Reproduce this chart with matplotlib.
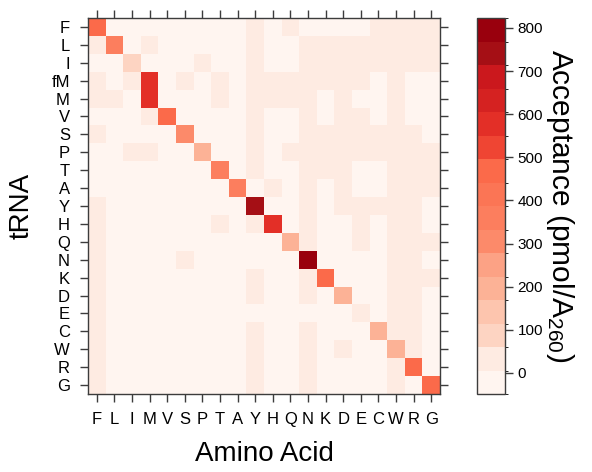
import matplotlib
matplotlib.use("Agg")
import matplotlib.pyplot as plt
import numpy as np
from matplotlib.colors import BoundaryNorm, ListedColormap

plt.rcParams["font.family"] = ["Liberation Sans", "DejaVu Sans"]
plt.rcParams["mathtext.fontset"] = "custom"
plt.rcParams["mathtext.rm"] = "Liberation Sans"
plt.rcParams["mathtext.it"] = "Liberation Sans:italic"

# tRNA (filas) y aminoácido (columnas)
trna = ["F", "L", "I", "fM", "M", "V", "S", "P", "T", "A", "Y",
        "H", "Q", "N", "K", "D", "E", "C", "W", "R", "G"]
amino = ["F", "L", "I", "M", "V", "S", "P", "T", "A", "Y",
         "H", "Q", "N", "K", "D", "E", "C", "W", "R", "G"]

# Aceptación (pmol/A260), leída del mapa
#              F    L    I    M    V    S    P    T    A    Y    H    Q    N    K    D    E    C    W    R    G
acceptance = [
    [450,   0,   0,   0,   0,   0,   0,   0,   0,  30,   0,  30,   0,   0,   0,   0,  30,  30,  30,  30],  # F
    [ 30, 380,   0,  30,   0,   0,   0,   0,   0,  30,   0,   0,  30,  30,  30,  30,  30,  30,  30,  30],  # L
    [  0,   0, 100,   0,   0,   0,  30,   0,   0,  30,   0,   0,  30,  30,  30,  30,  30,  30,  30,  30],  # I
    [ 30,   0,  30, 590,   0,  30,   0,  30,   0,  30,  30,  30,  30,  30,  30,  30,   0,  30,   0,   0],  # fM
    [ 30,  30,   0, 590,   0,   0,   0,  30,   0,  30,  30,  30,  30,   0,  30,   0,   0,  30,   0,   0],  # M
    [  0,   0,   0,  30, 470,   0,   0,   0,   0,  30,   0,   0,  30,   0,  30,  30,   0,  30,   0,   0],  # V
    [ 30,   0,   0,   0,   0, 320,   0,   0,   0,  30,   0,   0,  30,  30,  30,  30,  30,  30,  30,   0],  # S
    [  0,   0,  30,  30,   0,   0, 215,   0,   0,  30,   0,  30,  30,  30,  30,  30,  30,  30,  30,  30],  # P
    [  0,   0,   0,   0,   0,   0,   0, 370,   0,  30,   0,   0,  30,  30,  30,   0,   0,  30,  30,  30],  # T
    [  0,   0,   0,   0,   0,   0,   0,   0, 360,   0,  30,   0,  30,   0,  30,   0,   0,  30,  30,  30],  # A
    [ 30,   0,   0,   0,   0,   0,   0,   0,   0, 750,   0,   0,  30,   0,  30,  30,  30,  30,  30,   0],  # Y
    [ 30,   0,   0,   0,   0,   0,   0,  30,   0,  30, 590,   0,  30,   0,   0,  30,   0,  30,  30,   0],  # H
    [ 30,   0,   0,   0,   0,   0,   0,   0,   0,   0,   0, 215,  30,   0,   0,  30,   0,  30,  30,  30],  # Q
    [ 30,   0,   0,   0,   0,  30,   0,   0,   0,   0,   0,   0, 810,   0,   0,   0,   0,  30,  30,   0],  # N
    [ 30, -10,   0,   0,   0,   0,   0,   0,   0,  30,   0,   0,  30, 470,   0,   0,   0,  30,  30,  30],  # K
    [ 30,   0,   0,   0,   0,   0,   0,   0,   0,  30,   0,   0,  30,   0, 215,   0,   0,  30,  30,   0],  # D
    [ 30,   0, -20,   0,   0,   0,   0,   0,   0,   0,   0,   0,   0,   0,   0,  50,   0,  30,  30,   0],  # E
    [ 30,   0,   0,   0,   0,   0,   0,   0,   0,  30,   0,   0,  30,   0,   0,   0, 215,  30,  30,   0],  # C
    [ 30,   0,   0,   0, -45,   0,   0,   0,   0,  30,   0,   0,  30,   0,  30,   0,   0, 215,  30,   0],  # W
    [ 30,   0,   0,   0,   0,   0,   0,   0,   0,  30,   0,   0,  30,   0,   0,   0,   0,  30, 460,   0],  # R
    [ 30,   0,   0,   0,   0,   0,   0,   0,   0,  30,   0,   0,  30,   0,   0,   0,   0,  30,   0, 470],  # G
]
cbar_ticks = [0, 100, 200, 300, 400, 500, 600, 700, 800]

palette = ["#FFF5F0", "#FEEBE2", "#FDD4C2", "#FDC5AE", "#FCB296", "#FCA285",
           "#FC8A6A", "#FC7E5E", "#FB7555", "#FB6A4A", "#EF4533", "#E32F27",
           "#D52221", "#CB181D", "#A50F15", "#99000D"]

Z = np.array(acceptance, dtype=float)
levels = np.linspace(-49, 823, len(palette) + 1)
cmap = ListedColormap(palette)
norm = BoundaryNorm(levels, cmap.N)

fig = plt.figure(figsize=(5.92, 4.72), dpi=100)
ax = fig.add_axes([88 / 592, 1 - 394 / 472, 352 / 592, 376 / 472])
mesh = ax.pcolormesh(np.arange(len(amino) + 1), np.arange(len(trna) + 1), Z,
                     cmap=cmap, norm=norm)
ax.set_xlim(0, len(amino))
ax.set_ylim(len(trna), 0)

edge = "#3c3c3c"
for s in ax.spines.values():
    s.set_color(edge)
    s.set_linewidth(1.0)
ax.set_xticks(np.arange(len(amino)) + 0.5)
ax.set_xticklabels(amino)
ax.set_yticks(np.arange(len(trna)) + 0.5)
ax.set_yticklabels(trna)
ax.tick_params(axis="both", direction="out", length=6, width=1.0, color=edge,
               labelsize=12, top=True, right=True, pad=7)
ax.set_xlabel("Amino Acid", fontsize=20, labelpad=10)
ax.set_ylabel("tRNA", fontsize=20, labelpad=12)

cax = fig.add_axes([477 / 592, 1 - 394 / 472, 28 / 592, 376 / 472])
cb = fig.colorbar(mesh, cax=cax, boundaries=levels, ticks=cbar_ticks)
cb.outline.set_edgecolor(edge)
cb.outline.set_linewidth(1.0)
cax.tick_params(direction="out", length=6, width=1.0, color=edge,
                labelsize=11, pad=3)
cb.set_label("Acceptance (pmol/A$_{260}$)", fontsize=21.5, rotation=270,
             labelpad=24)

fig.savefig("out.png", dpi=100)
